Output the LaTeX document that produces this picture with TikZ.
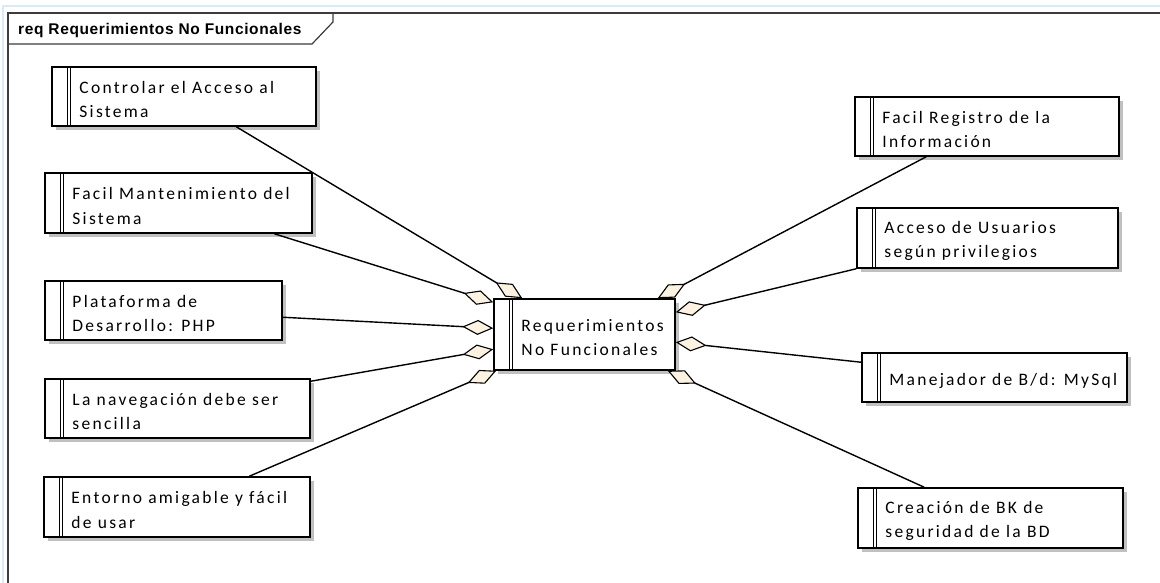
\documentclass[tikz,border=0pt]{standalone}
\usepackage{fontspec}
\usetikzlibrary{arrows.meta,shadows}
\newfontfamily\boxfont{Carlito}[LetterSpace=13]
\newfontfamily\titlefont{Liberation Sans}[LetterSpace=4]
\definecolor{agfill}{RGB}{251,242,226}
\definecolor{shadowgray}{RGB}{192,192,192}
\definecolor{framegray}{RGB}{60,60,60}
\definecolor{edgeblue}{RGB}{218,234,246}

\tikzset{
  reqbox/.style={draw=black, fill=white, line width=1.5pt, rectangle, inner sep=0pt,
    drop shadow={shadow xshift=4pt, shadow yshift=-4pt, fill=shadowgray, opacity=1}},
  reqtext/.style={anchor=west, inner sep=0pt, align=left,
    font=\boxfont\fontsize{17.5}{24.5}\selectfont},
  agg/.style={line width=1.4pt,
    -{Diamond[length=31pt, width=15pt, fill=agfill, line width=1.1pt]}},
  titletext/.style={anchor=base west, inner sep=0pt,
    font=\titlefont\bfseries\fontsize{15.5}{18}\selectfont},
}

% requirement box: name, left, top, right, bottom, text
\newcommand\reqnode[6]{%
  \node[reqbox, minimum width={#4-#2}, minimum height={#5-#3}] (#1)
    at ({(#2+#4)/2},{(#3+#5)/2}) {};
  \draw[line width=1.1pt]
    ([xshift=16pt]#1.north west) -- ([xshift=16pt]#1.south west)
    ([xshift=19pt]#1.north west) -- ([xshift=19pt]#1.south west);
  \node[reqtext] (#1-t) at ([xshift=28pt, yshift=-3pt]#1.west) {#6};
}

\begin{document}
\begin{tikzpicture}[x=1pt, y=-1pt]
\useasboundingbox (0,0) rectangle (1160,583);
\fill[white] (0,0) rectangle (1160,583);

% outer window edge and diagram frame
\draw[edgeblue, line width=2pt] (3,583) -- (3,6) -- (1160,6);
\draw[framegray, line width=1.5pt] (8,583) -- (8,13) -- (1160,13);
\draw[framegray, line width=1.2pt] (8,44) -- (312,44) -- (333,22) -- (333,13);
\node[titletext] (title) at (18,35) {req Requerimientos No Funcionales};

% central requirement
\reqnode{c}{494}{299}{675}{370}{Requerimientos\\No Funcionales}

% left column
\reqnode{b1}{52}{67}{316}{126}{Controlar el Acceso al\\Sistema}
\reqnode{b2}{45}{173}{312}{233}{Facil Mantenimiento del\\Sistema}
\reqnode{b3}{45}{281}{282}{340}{Plataforma de\\Desarrollo: PHP}
\reqnode{b4}{45}{379}{310}{438}{La navegación debe ser\\sencilla}
\reqnode{b5}{44}{477}{310}{537}{Entorno amigable y fácil\\de usar}

% right column
\reqnode{r1}{855}{97}{1119}{156}{Facil Registro de la\\Información}
\reqnode{r2}{857}{208}{1118}{268}{Acceso de Usuarios\\según privilegios}
\reqnode{r3}{862}{353}{1127}{402}{Manejador de B/d: MySql}
\reqnode{r4}{858}{488}{1123}{548}{Creación de BK de\\seguridad de la BD}

% aggregation connectors
\draw[agg] ([xshift=185pt]b1.south west) -- ([xshift=29pt]c.north west);
\draw[agg] ([xshift=230pt]b2.south west) -- ([yshift=-4pt]c.north west);
\draw[agg] ([yshift=-37pt]b3.north east) -- ([yshift=-30pt]c.north west);
\draw[agg] ([yshift=-3pt]b4.north east) -- ([yshift=-51pt]c.north west);
\draw[agg] ([xshift=206pt]b5.north west) -- ([xshift=3pt]c.south west);
\draw[agg] ([xshift=72pt]r1.south west) -- ([xshift=-18pt]c.north east);
\draw[agg] (r2.south west) -- ([yshift=-14pt]c.north east);
\draw[agg] ([yshift=-10pt]r3.north west) -- ([yshift=-44pt]c.north east);
\draw[agg] ([xshift=67pt]r4.north west) -- ([xshift=-8pt]c.south east);
\end{tikzpicture}
\end{document}
